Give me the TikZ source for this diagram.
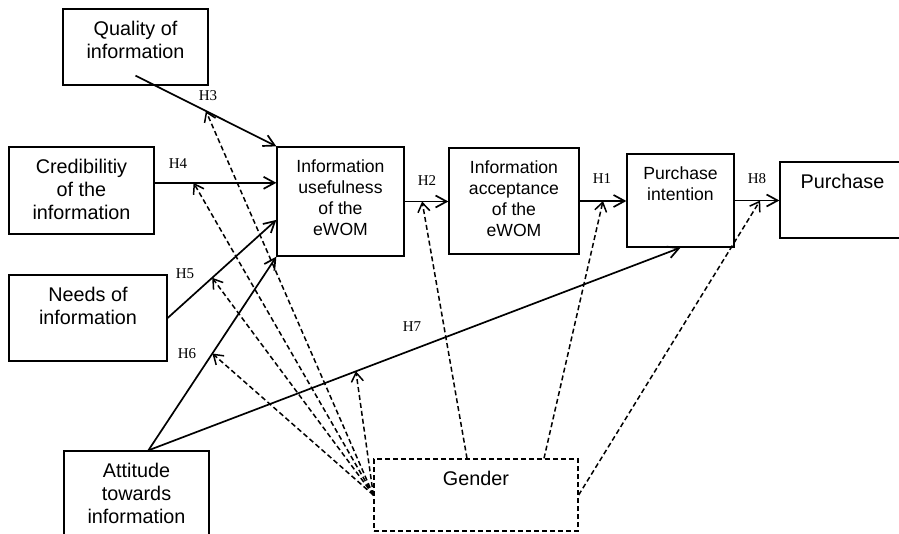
\documentclass[tikz,border=0pt]{standalone}
\usepackage{fontspec}
\setmainfont{Liberation Serif}
\setsansfont{Liberation Sans}
\usetikzlibrary{arrows.meta}
\tikzset{block/.style = {draw, line width=1.3pt, rectangle, inner sep=0pt},
    txt/.style = {font=\sffamily\fontsize{17.6}{21}\selectfont, align=center, anchor=north, inner sep=0pt, yshift=-13pt},
    bigtxt/.style = {txt, font=\sffamily\fontsize{19.8}{23}\selectfont},
    arr/.style = {line width=1.7pt, -{Straight Barb[length=11pt, width=12pt]}},
    modarr/.style = {line width=1.5pt, dash pattern=on 5pt off 3pt, -{Straight Barb[length=9pt, width=12pt]}},
    hyp/.style = {font=\fontsize{15}{16}\selectfont}}

\begin{document}
\begin{tikzpicture}[x=1pt, y=-1pt]
    \useasboundingbox (0,0) rectangle (899,533);
    % constructs
    \node[block, minimum width=145, minimum height=76, label={[bigtxt]north:Quality of\\information}](quality)at(135.5,47){};
    \node[block, minimum width=145, minimum height=87, label={[bigtxt]north:Credibilitiy\\of the\\information}](cred)at(81.5,190.5){};
    \node[block, minimum width=158, minimum height=86, label={[bigtxt]north:Needs of\\information}](needs)at(88,318){};
    \node[block, minimum width=145, minimum height=94, label={[bigtxt]north:Attitude\\towards\\information}](attitude)at(136.5,498){};
    \node[block, minimum width=127, minimum height=109, label={[txt]north:Information\\usefulness\\of the\\eWOM}](useful)at(340.5,201.5){};
    \node[block, minimum width=130, minimum height=106, label={[txt]north:Information\\acceptance\\of the\\eWOM}](accept)at(514,201){};
    \node[block, minimum width=107, minimum height=93, label={[txt]north:Purchase\\intention}](intent)at(680.5,200.5){};
    \node[block, minimum width=125, minimum height=76, label={[bigtxt]north:Purchase}](purchase)at(842.5,200){};
    \node[block, dash pattern=on 5pt off 3pt, minimum width=204, minimum height=72, label={[bigtxt]north:Gender}](gender)at(476,495){};
    % hypotheses
    \draw[arr]([yshift=10pt]quality.south)--(useful.north west)coordinate[pos=0.5](h3);
    \draw[arr](cred.6)--(cred.6 -| useful.west)coordinate[pos=0.32](h4);
    \draw[arr](needs.east)--(useful.196)coordinate[pos=0.41](h5);
    \draw[arr](attitude.76)--(useful.south west)coordinate[pos=0.5](h6);
    \draw[arr](attitude.76)--(intent.south)coordinate[pos=0.39](h7);
    \draw[arr](useful.east)--(useful.east -| accept.west)coordinate[pos=0.4](h2);
    \draw[arr](accept.east)--(accept.east -| intent.west)coordinate[pos=0.5](h1);
    \draw[arr](intent.east)--(intent.east -| purchase.west)coordinate[pos=0.57](h8);
    % moderation by gender
    \foreach \h in {h3,h4,h5,h6,h7}
        \draw[modarr](gender.west)--(\h);
    \draw[modarr]([xshift=-9pt]gender.north)--(h2);
    \draw[modarr]([xshift=68pt]gender.north)--(h1);
    \draw[modarr](gender.east)--(h8);
    % labels
    \node[hyp](l3)at(208,96){H3};
    \node[hyp](l4)at(178,164){H4};
    \node[hyp](l5)at(185,274){H5};
    \node[hyp](l6)at(187,354){H6};
    \node[hyp](l7)at(412,327){H7};
    \node[hyp](l2)at(427,181){H2};
    \node[hyp](l1)at(602,179){H1};
    \node[hyp](l8)at(757,179){H8};
\end{tikzpicture}
\end{document}
